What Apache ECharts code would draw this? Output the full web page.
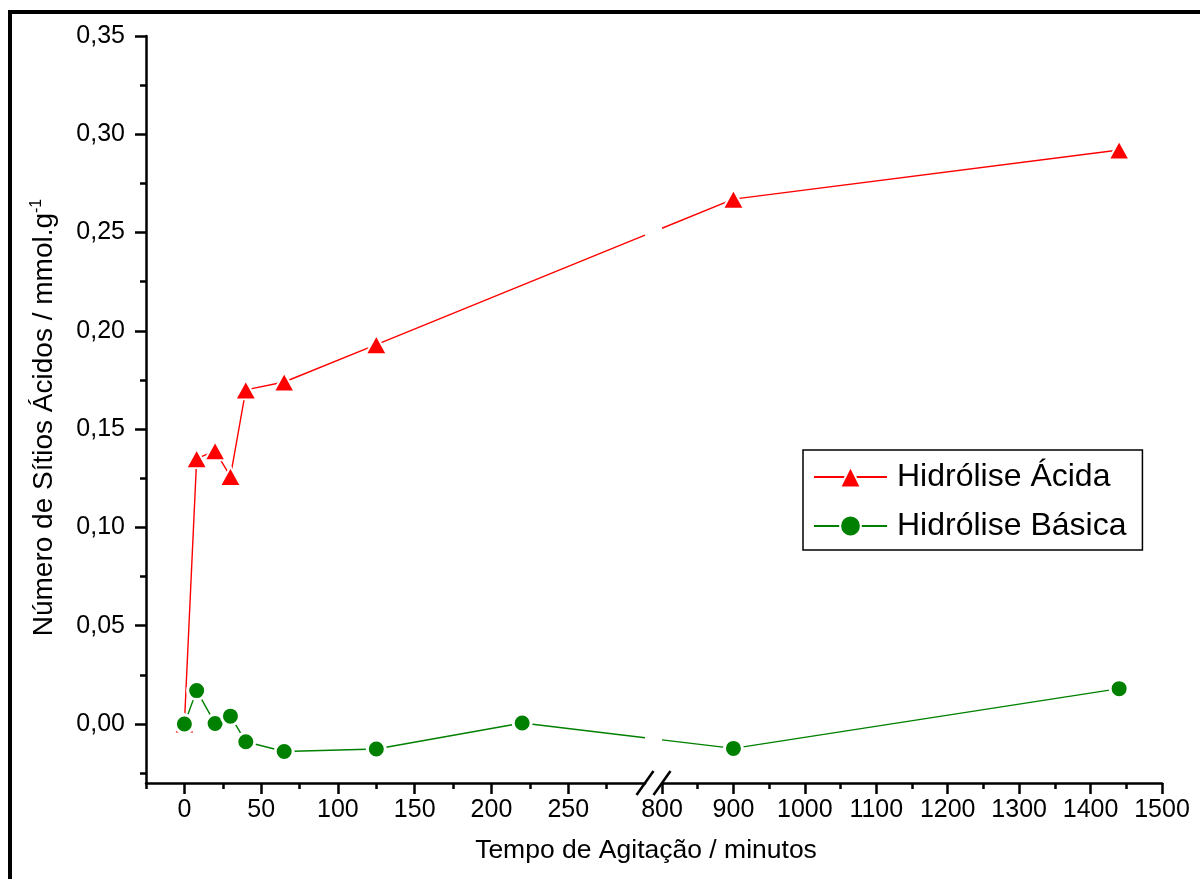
<!DOCTYPE html>
<html>
<head>
<meta charset="utf-8">
<script src="https://cdn.jsdelivr.net/npm/echarts@6/dist/echarts.min.js"></script>
<style>
  html, body { margin: 0; padding: 0; background: #ffffff; }
  #chart { width: 1200px; height: 879px; }
</style>
</head>
<body>
<div id="chart"></div>
<script>
// Tempo de agitação (min) vs. número de sítios ácidos (mmol/g)
const tempoAcida   = [0, 8, 20, 30, 40, 65, 125, 900, 1440];
const sitiosAcida  = [0.000, 0.135, 0.139, 0.126, 0.170, 0.174, 0.193, 0.267, 0.292];
const tempoBasica  = [0, 8, 20, 30, 40, 65, 125, 220, 900, 1440];
const sitiosBasica = [0.000, 0.017, 0.0003, 0.004, -0.009, -0.014, -0.0127, 0.0005, -0.0124, 0.018];
const seriesNames  = ['Hidrólise Ácida', 'Hidrólise Básica'];

// broken x axis: two ranges
const xRangeLeft  = [-25, 300];
const xRangeRight = [800, 1500];
const xMajorLeft  = [0, 50, 100, 150, 200, 250];
const xMinorLeft  = [-25, 25, 75, 125, 175, 225, 275];
const xMajorRight = [800, 900, 1000, 1100, 1200, 1300, 1400, 1500];
const xMinorRight = [850, 950, 1050, 1150, 1250, 1350, 1450];
const yRange      = [-0.03, 0.35];
const yMajor      = [0, 0.05, 0.10, 0.15, 0.20, 0.25, 0.30, 0.35];
const yMinor      = [-0.025, 0.025, 0.075, 0.125, 0.175, 0.225, 0.275, 0.325];
const xTitle = 'Tempo de Agitação / minutos';
const yTitle = 'Número de Sítios Ácidos / mmol.g';
const yTitleSup = '-1';

const FONT = "'Liberation Sans', Arial, Helvetica, sans-serif";
const RED = '#ff0000';
const GREEN = '#008000';

function pairs(xs, ys, lo, hi) {
  const out = [];
  xs.forEach((x, i) => { if (x >= lo && x <= hi) out.push([x, ys[i]]); });
  return out;
}

const chart = echarts.init(document.getElementById('chart'), null, { renderer: 'canvas' });

const axisLineStyle = { color: '#000', width: 2.5 };
const tickStyle = { color: '#000', width: 2.5 };
const commonX = (gridIndex, range) => ({
  type: 'value', gridIndex, min: range[0], max: range[1], position: 'bottom',
  splitLine: { show: false }
});
const commonY = (gridIndex) => ({
  type: 'value', gridIndex, min: yRange[0], max: yRange[1], position: 'left',
  splitLine: { show: false }
});

const xLabel = {
  show: true, color: '#000', fontSize: 25, fontFamily: FONT, margin: 15,
  formatter: v => String(v)
};

const triStyle = { color: RED, borderColor: '#fff', borderWidth: 2 };
const cirStyle = { color: GREEN, borderColor: '#fff', borderWidth: 3 };

function lineSeries(name, xs, ys, gridPart) {
  const isLeft = gridPart === 0;
  const range = isLeft ? xRangeLeft : xRangeRight;
  const acid = name === seriesNames[0];
  return {
    name, type: 'line',
    xAxisIndex: isLeft ? 0 : 2, yAxisIndex: isLeft ? 0 : 2,
    data: pairs(xs, ys, range[0], range[1]),
    symbol: acid ? 'triangle' : 'circle',
    symbolSize: acid ? [21, 19] : 18,
    showAllSymbol: true,
    clip: true,
    lineStyle: { color: acid ? RED : GREEN, width: 1.4 },
    itemStyle: acid ? triStyle : cirStyle,
    emphasis: { disabled: true },
    z: acid ? 2 : 3
  };
}

const option = {
  animation: false,
  backgroundColor: '#ffffff',
  grid: [
    { left: 146, right: 555, top: 36, bottom: 96, outerBoundsMode: 'none' },
    { left: 662, right: 38, top: 36, bottom: 96, outerBoundsMode: 'none' }
  ],
  xAxis: [
    Object.assign(commonX(0, xRangeLeft), {
      axisLine: { show: true, onZero: false, lineStyle: axisLineStyle },
      axisTick: { show: true, length: 11, lineStyle: tickStyle, customValues: xMajorLeft },
      axisLabel: Object.assign({ customValues: xMajorLeft }, xLabel)
    }),
    Object.assign(commonX(0, xRangeLeft), {
      axisLine: { show: false, onZero: false },
      axisTick: { show: true, length: 6, lineStyle: tickStyle, customValues: xMinorLeft },
      axisLabel: { show: false }
    }),
    Object.assign(commonX(1, xRangeRight), {
      axisLine: { show: true, onZero: false, lineStyle: axisLineStyle },
      axisTick: { show: true, length: 11, lineStyle: tickStyle, customValues: xMajorRight },
      axisLabel: Object.assign({ customValues: xMajorRight }, xLabel)
    }),
    Object.assign(commonX(1, xRangeRight), {
      axisLine: { show: false, onZero: false },
      axisTick: { show: true, length: 6, lineStyle: tickStyle, customValues: xMinorRight },
      axisLabel: { show: false }
    })
  ],
  yAxis: [
    Object.assign(commonY(0), {
      axisLine: { show: true, onZero: false, lineStyle: axisLineStyle },
      axisTick: { show: true, length: 11, lineStyle: tickStyle, customValues: yMajor },
      axisLabel: {
        show: true, customValues: yMajor, color: '#000', fontSize: 25, fontFamily: FONT, margin: 21,
        formatter: v => v.toFixed(2).replace('.', ',')
      },
      name: '{a|' + yTitle + '}{s|' + yTitleSup + '}',
      nameLocation: 'middle', nameRotate: 90, nameGap: 87,
      nameTextStyle: {
        color: '#000', fontFamily: FONT, padding: [0, 16, 0, 0],
        rich: {
          a: { fontSize: 28, lineHeight: 30, fontFamily: FONT, color: '#000' },
          s: { fontSize: 16, lineHeight: 16, fontFamily: FONT, color: '#000', verticalAlign: 'top' }
        }
      }
    }),
    Object.assign(commonY(0), {
      axisLine: { show: false, onZero: false },
      axisTick: { show: true, length: 6, lineStyle: tickStyle, customValues: yMinor },
      axisLabel: { show: false }
    }),
    Object.assign(commonY(1), { show: false, axisLine: { onZero: false } })
  ],
  legend: {
    orient: 'vertical', left: 803, top: 450,
    itemWidth: 73, itemHeight: 26, itemGap: 17,
    padding: [11, 16, 8, 10],
    borderColor: '#000', borderWidth: 1.5, borderRadius: 0,
    backgroundColor: '#fff',
    textStyle: { fontSize: 32, fontFamily: FONT, color: '#000', padding: [0, 0, 0, 5] },
    selectedMode: false,
    data: seriesNames
  },
  series: [
    lineSeries(seriesNames[0], tempoAcida, sitiosAcida, 0),
    lineSeries(seriesNames[1], tempoBasica, sitiosBasica, 0),
    lineSeries(seriesNames[0], tempoAcida, sitiosAcida, 1),
    lineSeries(seriesNames[1], tempoBasica, sitiosBasica, 1)
  ]
};

chart.setOption(option);

// segments that cross the axis break, plus break marks, frame and x title
function lastBefore(xs, limit) {
  let idx = -1;
  xs.forEach((x, i) => { if (x <= limit) idx = i; });
  return idx;
}
function firstAfter(xs, limit) {
  for (let i = 0; i < xs.length; i++) if (xs[i] >= limit) return i;
  return -1;
}

const leftEnd = chart.convertToPixel({ xAxisIndex: 0 }, xRangeLeft[1]);
const leftStart = chart.convertToPixel({ xAxisIndex: 0 }, xRangeLeft[0]);
const rightStart = chart.convertToPixel({ xAxisIndex: 2 }, xRangeRight[0]);
const rightEnd = chart.convertToPixel({ xAxisIndex: 2 }, xRangeRight[1]);
const axisY = chart.convertToPixel({ yAxisIndex: 0 }, yRange[0]);

const graphics = [];
[[tempoAcida, sitiosAcida, RED], [tempoBasica, sitiosBasica, GREEN]].forEach(([xs, ys, color]) => {
  const i0 = lastBefore(xs, xRangeLeft[1]);
  const i1 = firstAfter(xs, xRangeRight[0]);
  if (i0 < 0 || i1 < 0) return;
  const p0 = chart.convertToPixel({ xAxisIndex: 0, yAxisIndex: 0 }, [xs[i0], ys[i0]]);
  const p1 = chart.convertToPixel({ xAxisIndex: 2, yAxisIndex: 2 }, [xs[i1], ys[i1]]);
  const yAt = x => p0[1] + (p1[1] - p0[1]) * (x - p0[0]) / (p1[0] - p0[0]);
  graphics.push({
    type: 'line', z: 1, silent: true,
    shape: { x1: p0[0], y1: p0[1], x2: leftEnd, y2: yAt(leftEnd) },
    style: { stroke: color, lineWidth: 1.4 }
  });
  graphics.push({
    type: 'line', z: 1, silent: true,
    shape: { x1: rightStart, y1: yAt(rightStart), x2: p1[0], y2: p1[1] },
    style: { stroke: color, lineWidth: 1.4 }
  });
});

// break marks "//" on the x axis
[leftEnd, rightStart].forEach(cx => {
  graphics.push({
    type: 'line', z: 10, silent: true,
    shape: { x1: cx - 8.5, y1: axisY + 12, x2: cx + 8.5, y2: axisY - 12 },
    style: { stroke: '#000', lineWidth: 2.5 }
  });
});

// x axis title centred under the whole axis
graphics.push({
  type: 'text', z: 10, silent: true,
  x: (leftStart + rightEnd) / 2 - 8, y: axisY + 68,
  style: {
    text: xTitle, fill: '#000', fontSize: 26.5, fontFamily: FONT,
    align: 'center', verticalAlign: 'middle'
  }
});

// outer frame (top and left edges)
graphics.push({
  type: 'line', z: 10, silent: true,
  shape: { x1: 8, y1: 12, x2: 1200, y2: 12 },
  style: { stroke: '#000', lineWidth: 4 }
});
graphics.push({
  type: 'line', z: 10, silent: true,
  shape: { x1: 10, y1: 10, x2: 10, y2: 879 },
  style: { stroke: '#000', lineWidth: 4 }
});

chart.setOption({ graphic: graphics });
</script>
</body>
</html>
